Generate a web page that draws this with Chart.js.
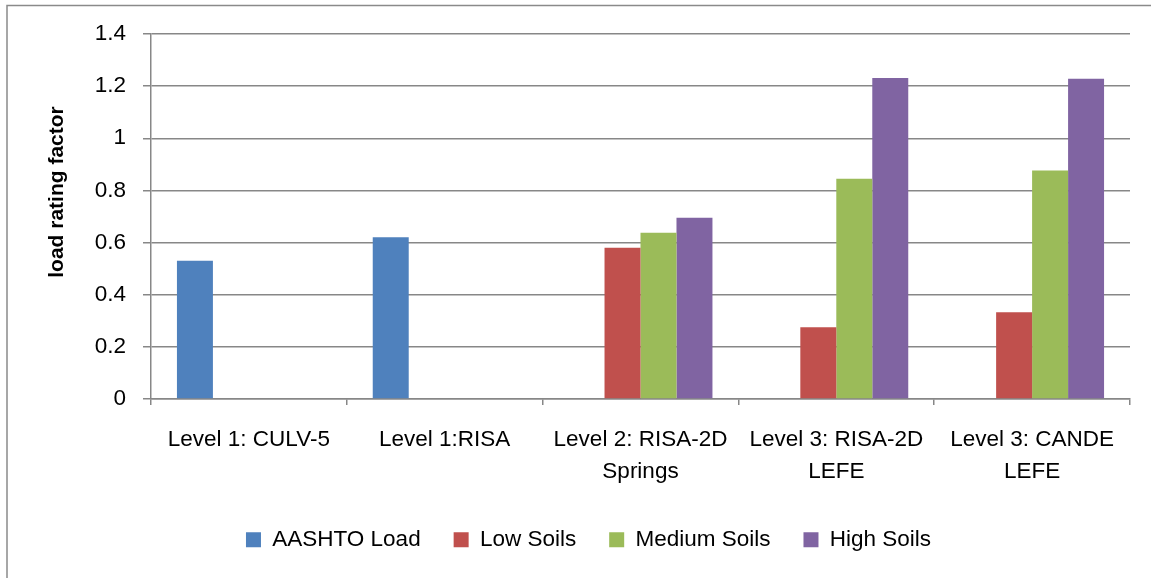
<!DOCTYPE html>
<html>
<head>
<meta charset="utf-8">
<script src="https://cdn.jsdelivr.net/npm/chart.js@4/dist/chart.umd.min.js"></script>
<style>
  html, body { margin: 0; padding: 0; background: #fff; overflow: hidden; }
  canvas { display: block; }
</style>
</head>
<body>
<canvas id="rating" width="1151" height="578"></canvas>
<script>
// categories (two-line labels where the original wraps)
let levels = [
  'Level 1: CULV-5',
  'Level 1:RISA',
  ['Level 2: RISA-2D', 'Springs'],
  ['Level 3: RISA-2D', 'LEFE'],
  ['Level 3: CANDE', 'LEFE']
];
let aashtoLoad = [0.53, 0.62, null, null, null];
let lowSoils = [null, null, 0.58, 0.275, 0.333];
let mediumSoils = [null, null, 0.638, 0.845, 0.876];
let highSoils = [null, null, 0.695, 1.231, 1.228];
let yTicks = [0, 0.2, 0.4, 0.6, 0.8, 1, 1.2, 1.4];
let yTitle = 'load rating factor';

let fontName = '"Liberation Sans", Arial, sans-serif';
let gridGray = '#878787';

// frame line of the original chart object (only left and top edges are in view)
let frame = {
  id: 'frame',
  beforeDraw(chart) {
    let c = chart.ctx;
    c.save();
    c.strokeStyle = '#8a8a8a';
    c.lineWidth = 1.5;
    c.beginPath();
    c.moveTo(7, chart.height);
    c.lineTo(7, 5.5);
    c.lineTo(chart.width, 5.5);
    c.stroke();
    c.restore();
  }
};

// y title sits above the middle of the axis in the original, so draw it by hand
let sideTitle = {
  id: 'sideTitle',
  afterDraw(chart) {
    let c = chart.ctx;
    c.save();
    c.translate(57, 192);
    c.rotate(-Math.PI / 2);
    c.font = 'bold 21px ' + fontName;
    c.fillStyle = '#000';
    c.textAlign = 'center';
    c.textBaseline = 'middle';
    c.fillText(yTitle, 0, 0);
    c.restore();
  }
};

// the legend in the original sits a bit right of the canvas centre
let legendShift = {
  id: 'legendShift',
  afterLayout(chart) {
    chart.legend.left += 20;
    chart.legend.right += 20;
  }
};

let ctx = document.getElementById('rating').getContext('2d');
let chart = new Chart(ctx, {
  type: 'bar',
  data: {
    labels: levels,
    datasets: [
      { label: 'AASHTO Load', data: aashtoLoad, backgroundColor: '#4F81BD' },
      { label: 'Low Soils', data: lowSoils, backgroundColor: '#C0504D' },
      { label: 'Medium Soils', data: mediumSoils, backgroundColor: '#9BBB59' },
      { label: 'High Soils', data: highSoils, backgroundColor: '#8064A2' }
    ]
  },
  options: {
    responsive: false,
    animation: false,
    devicePixelRatio: 1,
    categoryPercentage: 0.735,
    barPercentage: 1,
    layout: { padding: { left: 7, right: 21, top: 34, bottom: 17 } },
    plugins: {
      tooltip: { enabled: false },
      legend: {
        position: 'bottom',
        labels: {
          color: '#000',
          font: { family: fontName, size: 22.5 },
          boxWidth: 15,
          boxHeight: 15,
          padding: 33
        }
      }
    },
    scales: {
      x: {
        offset: true,
        grid: {
          offset: true,
          drawOnChartArea: false,
          tickLength: 6,
          color: gridGray,
          lineWidth: 1.5
        },
        border: { color: gridGray, width: 1.5 },
        ticks: {
          color: '#000',
          maxRotation: 0,
          autoSkip: false,
          padding: 19,
          font: { family: fontName, size: 22.5, lineHeight: 1.42 }
        },
        afterFit(axis) { axis.height = 96.5; }
      },
      y: {
        min: 0,
        max: 1.4,
        afterBuildTicks(axis) { axis.ticks = yTicks.map(v => ({ value: v })); },
        grid: { color: gridGray, lineWidth: 1.5, tickLength: 8 },
        border: { color: gridGray, width: 1.5 },
        ticks: {
          color: '#000',
          padding: 17,
          font: { family: fontName, size: 22.5 },
          callback: v => String(+v.toFixed(1))
        },
        afterFit(axis) { axis.width = 144; }
      }
    }
  },
  plugins: [frame, sideTitle, legendShift]
});
</script>
</body>
</html>
